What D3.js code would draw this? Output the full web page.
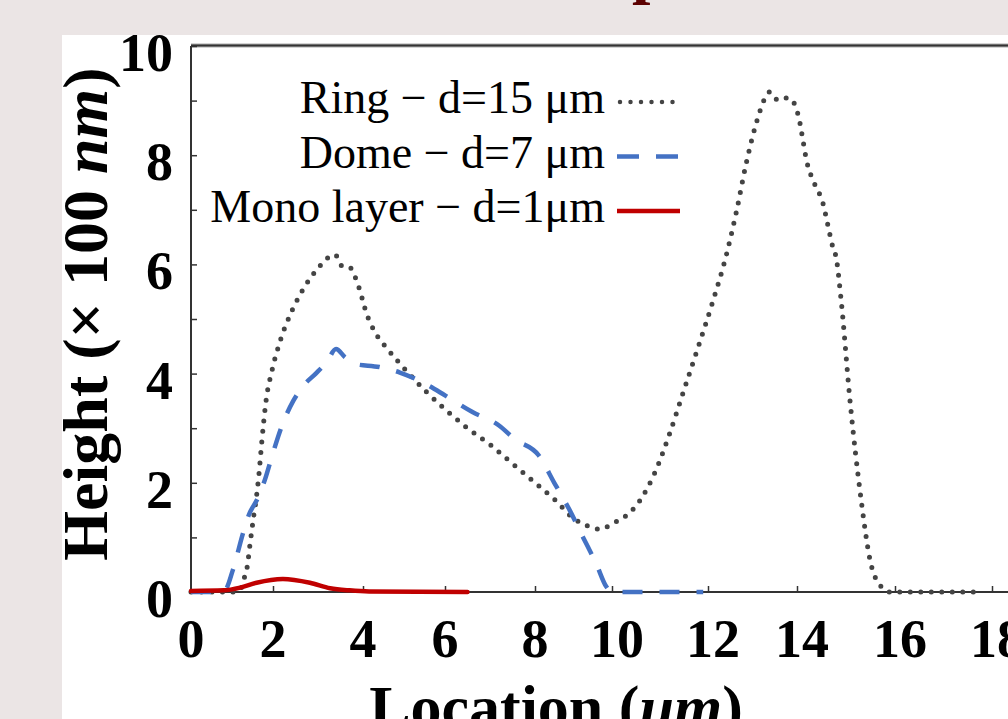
<!DOCTYPE html>
<html>
<head>
<meta charset="utf-8">
<script src="https://cdn.jsdelivr.net/npm/d3@7"></script>
<style>
  body { margin: 0; background: #ebe5e5; }
  svg { display: block; }
  text { font-family: "Liberation Serif", "Times New Roman", serif; }
</style>
</head>
<body>
<div id="chart"></div>
<script>
// profile data (x in um, height in 100 nm)
const ringX = [0, 0.6, 1.1, 1.22, 1.3, 1.37, 1.44, 1.51, 1.58, 1.65, 1.73, 1.83, 1.98, 2.16, 2.42, 2.71, 3.0, 3.27, 3.38, 3.52, 3.7, 3.9, 4.1, 4.3, 4.6, 5.0, 5.5, 6.0, 6.5, 7.0, 7.5, 8.0, 8.5, 9.0, 9.4, 9.7, 10.0, 10.3, 10.6, 10.9, 11.2, 11.5, 11.8, 12.1, 12.43, 12.65, 12.85, 13.1, 13.26, 13.39, 13.57, 13.73, 13.87, 13.98, 14.04, 14.12, 14.2, 14.27, 14.35, 14.45, 14.53, 14.63, 14.73, 14.8, 14.9, 15.08, 15.31, 15.49, 15.69, 15.9, 16.8, 17.7];
const ringY = [0, 0, 0, 0.07, 0.26, 0.46, 0.88, 1.28, 1.65, 2.1, 2.78, 3.5, 4.07, 4.6, 5.15, 5.6, 5.93, 6.15, 6.18, 5.98, 5.95, 5.6, 5.07, 4.75, 4.45, 4.1, 3.7, 3.35, 3.0, 2.7, 2.35, 2.0, 1.7, 1.35, 1.2, 1.15, 1.25, 1.4, 1.7, 2.2, 2.9, 3.7, 4.5, 5.3, 6.23, 7.01, 7.82, 8.63, 9.01, 9.16, 9.01, 9.05, 9.03, 8.86, 8.68, 8.28, 7.88, 7.67, 7.49, 7.31, 7.12, 6.72, 6.32, 6.12, 5.35, 3.52, 1.68, 0.59, 0.13, 0, 0, 0];

const domeX = [0, 0.5, 0.83, 1.02, 1.27, 1.41, 1.63, 1.8, 2.0, 2.2, 2.45, 2.7, 2.95, 3.2, 3.4, 3.6, 3.8, 4.4, 4.9, 5.6, 6.0, 6.6, 7.2, 7.55, 8.1, 8.5, 8.9, 9.25, 9.6, 9.85, 10.0, 11.9];
const domeY = [0, 0, 0.04, 0.4, 1.08, 1.41, 1.72, 2.05, 2.55, 3.05, 3.5, 3.8, 4.0, 4.22, 4.45, 4.3, 4.18, 4.12, 4.02, 3.78, 3.6, 3.3, 3.05, 2.8, 2.5, 2.0, 1.5, 1.0, 0.5, 0.1, 0, 0];

const monoX = [0, 0.8, 1.2, 1.6, 2.22, 2.82, 3.27, 3.7, 4.15, 6.5];
const monoY = [0.02, 0.03, 0.08, 0.17, 0.24, 0.17, 0.07, 0.03, 0.01, 0];

const xTicks = [0, 2, 4, 6, 8, 10, 12, 14, 16, 18];
const yTicks = [0, 2, 4, 6, 8, 10];
const yMinor = [1, 3, 5, 7, 9];

const legendLabels = ["Ring \u2212 d=15 \u03bcm", "Dome \u2212 d=7 \u03bcm", "Mono layer \u2212 d=1\u03bcm"];

const width = 1008, height = 719;

const svg = d3.select("#chart").append("svg")
    .attr("width", width)
    .attr("height", height);

// white panel behind the figure
svg.append("rect")
    .attr("x", 62).attr("y", 35)
    .attr("width", width - 62).attr("height", height - 35)
    .attr("fill", "#fff");

// cut-off title above the panel
svg.append("text")
    .attr("x", 632).attr("y", -9)
    .attr("font-size", 66).attr("font-weight", "bold")
    .attr("fill", "#5c0000")
    .text("p");

// the picture is a slightly uneven rescale, so the x scale goes through the tick marks
const x = d3.scaleLinear()
    .domain(xTicks)
    .range([191, 273, 363, 445, 535, 612, 708, 797, 895, 992]);

const y = d3.scaleLinear()
    .domain([0, 10])
    .range([592, 46]);

// frame
svg.append("line")
    .attr("x1", 191).attr("x2", width).attr("y1", 45.5).attr("y2", 45.5)
    .attr("stroke", "#aaa").attr("stroke-width", 4);
svg.append("line")
    .attr("x1", 191).attr("x2", width).attr("y1", 45.5).attr("y2", 45.5)
    .attr("stroke", "#333").attr("stroke-width", 1.8);

const xAxis = svg.append("g")
    .attr("transform", "translate(0," + y(0) + ")")
    .call(d3.axisBottom(x).tickValues(xTicks.slice(1)).tickSize(-6).tickFormat(""));
xAxis.select(".domain").attr("d", "M191,0H" + width).attr("stroke", "#333").attr("stroke-width", 2);
xAxis.selectAll(".tick line").attr("stroke", "#333").attr("stroke-width", 1.5);

const yAxis = svg.append("g")
    .attr("transform", "translate(" + x(0) + ",0)")
    .call(d3.axisLeft(y).tickValues(yTicks.concat(yMinor)).tickSize(-6).tickFormat(""));
yAxis.select(".domain").attr("d", "M0,46V592").attr("stroke", "#333").attr("stroke-width", 2);
yAxis.selectAll(".tick line").attr("stroke", "#333").attr("stroke-width", 1.5);

// tick labels
svg.append("g").selectAll("text")
    .data(xTicks)
    .enter().append("text")
    .attr("x", d => x(d) + (d >= 10 ? 5 : 0))
    .attr("y", 657)
    .attr("text-anchor", "middle")
    .attr("font-size", 54).attr("font-weight", "bold")
    .text(d => d);

svg.append("g").selectAll("text")
    .data(yTicks)
    .enter().append("text")
    .attr("x", 173)
    .attr("y", d => y(d) + 25)
    .attr("text-anchor", "end")
    .attr("font-size", 54).attr("font-weight", "bold")
    .text(d => d);

// axis titles
const yTitle = svg.append("text")
    .attr("transform", "translate(107,314) rotate(-90)")
    .attr("text-anchor", "middle")
    .attr("font-size", 64).attr("font-weight", "bold");
yTitle.append("tspan").text("Height (\u00d7 100 ");
yTitle.append("tspan").attr("font-style", "italic").text("nm");
yTitle.append("tspan").text(")");

const xTitle = svg.append("text")
    .attr("x", 556).attr("y", 728)
    .attr("text-anchor", "middle")
    .attr("font-size", 62).attr("font-weight", "bold");
xTitle.append("tspan").text("Location (");
xTitle.append("tspan").attr("font-style", "italic").text("\u03bcm");
xTitle.append("tspan").text(")");

// curves
function line(xs, ys) {
  return d3.line()
      .x(i => x(xs[i]))
      .y(i => y(ys[i]))
      .curve(d3.curveMonotoneX)(d3.range(xs.length));
}

const styles = [
  { stroke: "#444", width: 5, dash: "0 10.5", cap: "round" },
  { stroke: "#4472c4", width: 4.5, dash: "20 17", cap: "butt" },
  { stroke: "#c00000", width: 4.5, dash: null, cap: "round" }
];

const series = [[ringX, ringY], [domeX, domeY], [monoX, monoY]];

series.forEach(function (s, i) {
  svg.append("path")
      .attr("d", line(s[0], s[1]))
      .attr("fill", "none")
      .attr("stroke", styles[i].stroke)
      .attr("stroke-width", styles[i].width)
      .attr("stroke-dasharray", styles[i].dash)
      .attr("stroke-linecap", styles[i].cap);
});

// legend
const legend = svg.append("g").selectAll("g")
    .data(legendLabels)
    .enter().append("g")
    .attr("transform", (d, i) => "translate(0," + (102 + i * 54.5) + ")");

legend.append("text")
    .attr("x", 605).attr("y", 11)
    .attr("text-anchor", "end")
    .attr("font-size", 46)
    .text(d => d);

legend.append("line")
    .attr("x1", (d, i) => i === 0 ? 620 : 617)
    .attr("x2", 680)
    .attr("stroke", (d, i) => styles[i].stroke)
    .attr("stroke-width", 4.5)
    .attr("stroke-dasharray", (d, i) => i === 0 ? "0 10.5" : i === 1 ? "22 17" : null)
    .attr("stroke-linecap", (d, i) => i === 0 ? "round" : "butt");
</script>
</body>
</html>
